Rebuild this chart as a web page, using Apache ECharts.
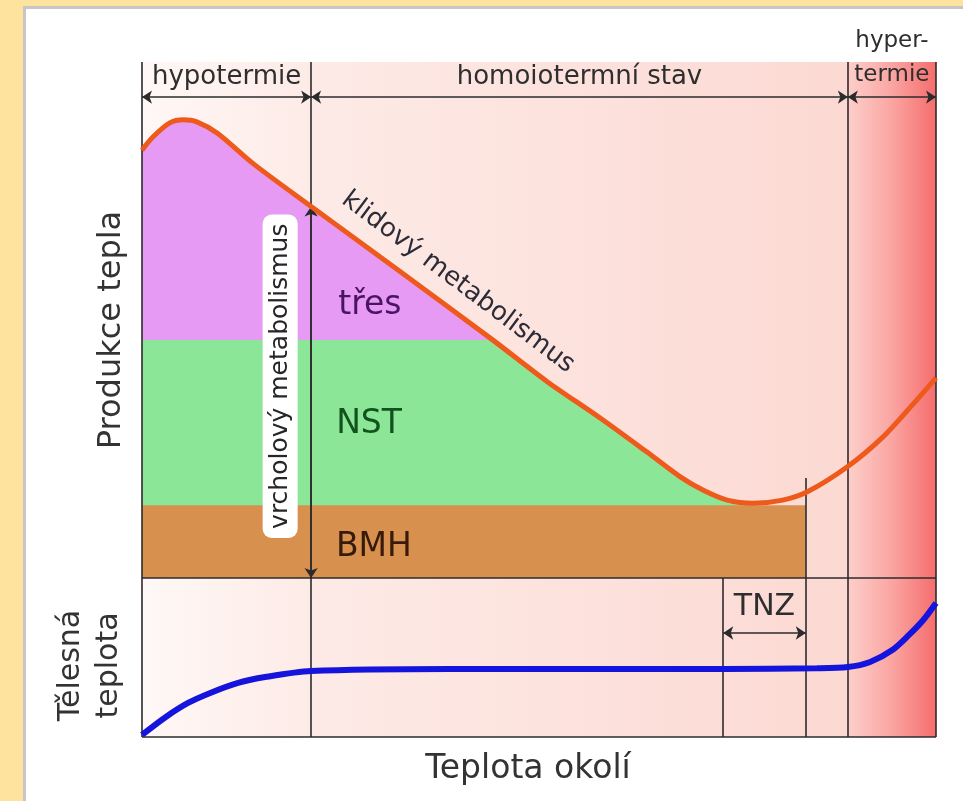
<!DOCTYPE html>
<html>
<head>
<meta charset="utf-8">
<script src="https://cdn.jsdelivr.net/npm/echarts@6/dist/echarts.min.js"></script>
<style>
  html, body { margin: 0; padding: 0; background: #fde39d; }
  #chart { width: 963px; height: 801px; }
</style>
</head>
<body>
<div id="chart"></div>
<script>
// x: teplota okoli (0-100), horni graf: produkce tepla (0-100), dolni graf: telesna teplota (0-100)
const zoneBounds = [0, 21.3, 88.9, 100] // hypotermie | homoiotermni stav | hypertermie
const zoneLabels = ['hypotermie', 'homoiotermní stav', 'termie']
const tnzBounds = [73.2, 83.6]
const bmhLevel = 14.1
const nstLevel = 46.1
const bmhEnd = 83.6
const bmhEndTop = 19.4
const peakPoint = [21.3, 72.0] // vrcholovy metabolismus
const shiverEnd = 44.2
const curveMinX = 77.0

const heatCurve = [
  [0, 82.9], [1.4, 85.5], [3.5, 88.2], [5.2, 88.8], [6.9, 88.4], [9.5, 86.2], [14.0, 80.3],
  [21.3, 72.0], [32.5, 59.4], [44.2, 46.1], [51.0, 38.1], [57.7, 31.0], [63.6, 24.4],
  [67.8, 19.6], [70.7, 17.0], [73.7, 15.1], [77.0, 14.5], [80.7, 15.1], [83.8, 16.7],
  [88.8, 21.5], [93.3, 27.3], [97.0, 33.5], [100, 38.8]
]
const bodyTemp = [
  [0, 1.3], [3.0, 12.6], [5.8, 21.4], [8.6, 27.7], [12.1, 34.0], [15.5, 37.7], [21.3, 41.5],
  [38.8, 42.8], [57.7, 42.8], [73.2, 42.8], [85.0, 43.2], [88.9, 44.0], [91.7, 47.2],
  [94.5, 54.7], [96.6, 64.2], [98.4, 73.6], [100, 84.3]
]

const FONT = "'DejaVu Sans', Verdana, sans-serif"
const LINE = '#2b2b2b'
const TEXT = '#2e2e2e'

const chart = echarts.init(document.getElementById('chart'))

const shiverArea = heatCurve.filter(p => p[0] <= shiverEnd)
const nstArea = [[0, nstLevel]].concat(heatCurve.filter(p => p[0] >= shiverEnd && p[0] <= curveMinX))
const bmhArea = [[0, bmhLevel], [bmhEnd, bmhLevel]]

const warmGrad = () => new echarts.graphic.LinearGradient(0, 0, 1, 0, [
  { offset: 0, color: '#fff8f6' },
  { offset: 0.25, color: '#fdeae6' },
  { offset: 1, color: '#fcd9d3' }
])
const hotGrad = () => new echarts.graphic.LinearGradient(0, 0, 1, 0, [
  { offset: 0, color: '#fdcfca' },
  { offset: 0.5, color: '#faa5a2' },
  { offset: 1, color: '#f56d6d' }
])

function bgAreas () {
  return [
    [{ coord: [zoneBounds[0], 0], itemStyle: { color: warmGrad() } }, { coord: [zoneBounds[2], 100] }],
    [{ coord: [zoneBounds[2], 0], itemStyle: { color: hotGrad() } }, { coord: [zoneBounds[3], 100] }]
  ]
}

function vline (x, y0, y1) {
  return [{ coord: [x, y0] }, { coord: [x, y1] }]
}
function hline (y, x0, x1) {
  return [{ coord: [x0, y] }, { coord: [x1, y] }]
}

const topFrame = zoneBounds.map(x => vline(x, 0, 100))
topFrame.push(hline(0, 0, 100))
topFrame.push(vline(bmhEnd, 0, bmhEndTop))

const bottomFrame = zoneBounds.concat(tnzBounds).map(x => vline(x, 0, 100))
bottomFrame.push(hline(0, 0, 100))

const headerArrows = []
for (let i = 0; i < zoneBounds.length - 1; i++) {
  headerArrows.push(hline(93.2, zoneBounds[i], zoneBounds[i + 1]))
}
headerArrows.push(vline(peakPoint[0], peakPoint[1], 0))

const markLineBase = {
  silent: true,
  animation: false,
  label: { show: false },
  lineStyle: { color: LINE, width: 1.6, type: 'solid', opacity: 1 }
}

function txt (x, y, text, style) {
  return {
    value: [x, y],
    label: Object.assign({ show: true, formatter: text, position: 'inside', fontFamily: FONT, color: TEXT, fontSize: 22 }, style)
  }
}

const topTexts = [
  txt((zoneBounds[0] + zoneBounds[1]) / 2, 97.1, zoneLabels[0], { fontSize: 26 }),
  txt((zoneBounds[1] + zoneBounds[2]) / 2, 97.1, zoneLabels[1], { fontSize: 26 }),
  txt((zoneBounds[2] + zoneBounds[3]) / 2, 97.4, zoneLabels[2], { fontSize: 23 }),
  txt((zoneBounds[2] + zoneBounds[3]) / 2, 104.0, 'hyper-', { fontSize: 23 }),
  txt(28.7, 52.9, 'třes', { fontSize: 33, color: '#4a1560' }),
  txt(28.6, 29.7, 'NST', { fontSize: 33, color: '#12521d' }),
  txt(29.2, 5.9, 'BMH', { fontSize: 33, color: '#381a0b' }),
  txt(17.4, 39.1, 'vrcholový metabolismus', {
    fontSize: 25, rotate: 90, color: '#262626', backgroundColor: '#ffffff',
    borderRadius: 9, padding: [5, 9]
  }),
  txt(39.8, 57.3, 'klidový metabolismus', { fontSize: 26, rotate: -37, color: '#2c2c38' })
]
const bottomTexts = [
  txt((tnzBounds[0] + tnzBounds[1]) / 2, 81.8, 'TNZ', { fontSize: 30 })
]

const hiddenAxis = {
  type: 'value', min: 0, max: 100,
  axisLine: { show: false }, axisTick: { show: false },
  axisLabel: { show: false }, splitLine: { show: false }
}
const axisName = { fontFamily: FONT, color: '#333333' }

chart.setOption({
  animation: false,
  backgroundColor: '#fde39d',
  graphic: [{
    type: 'rect', left: 23, top: 6, z: -10,
    shape: { width: 960, height: 820 },
    style: { fill: '#ffffff', stroke: '#c6c6c6', lineWidth: 3 }
  }],
  grid: [
    { left: 142, right: 27, top: 62, height: 516 },
    { left: 142, right: 27, top: 578, height: 159 }
  ],
  xAxis: [
    Object.assign({ gridIndex: 0 }, hiddenAxis),
    Object.assign({
      gridIndex: 1, name: 'Teplota okolí', nameLocation: 'middle', nameGap: 16,
      nameTextStyle: Object.assign({ fontSize: 33, padding: [0, 22, 0, 0] }, axisName)
    }, hiddenAxis)
  ],
  yAxis: [
    Object.assign({
      gridIndex: 0, name: 'Produkce tepla', nameLocation: 'middle', nameGap: 14,
      nameTextStyle: Object.assign({ fontSize: 32, padding: [0, 20, 0, 0] }, axisName)
    }, hiddenAxis),
    Object.assign({
      gridIndex: 1, name: 'Tělesná\nteplota', nameLocation: 'middle', nameGap: 14,
      nameTextStyle: Object.assign({ fontSize: 30, lineHeight: 38, padding: [0, 16, 0, 0] }, axisName)
    }, hiddenAxis)
  ],
  series: [
    // pozadi
    {
      type: 'line', xAxisIndex: 0, yAxisIndex: 0, z: 1, data: [], symbol: 'none',
      markArea: { silent: true, data: bgAreas() }
    },
    {
      type: 'line', xAxisIndex: 1, yAxisIndex: 1, z: 1, data: [], symbol: 'none',
      markArea: { silent: true, data: bgAreas() }
    },
    // vrstvy produkce tepla
    {
      name: 'třes', type: 'line', xAxisIndex: 0, yAxisIndex: 0, z: 2, data: shiverArea,
      smooth: 0.3, symbol: 'none', lineStyle: { width: 0 },
      areaStyle: { color: '#e79af4', opacity: 1, origin: 'start' }
    },
    {
      name: 'NST', type: 'line', xAxisIndex: 0, yAxisIndex: 0, z: 3, data: nstArea,
      symbol: 'none', lineStyle: { width: 0 },
      areaStyle: { color: '#8ce698', opacity: 1, origin: 'start' }
    },
    {
      name: 'BMH', type: 'line', xAxisIndex: 0, yAxisIndex: 0, z: 4, data: bmhArea,
      symbol: 'none', lineStyle: { width: 0 },
      areaStyle: { color: '#d8904f', opacity: 1, origin: 'start' }
    },
    // ramecek a svisle cary
    {
      type: 'line', xAxisIndex: 0, yAxisIndex: 0, z: 5, data: [], symbol: 'none',
      markLine: Object.assign({ symbol: ['none', 'none'], data: topFrame }, markLineBase)
    },
    {
      type: 'line', xAxisIndex: 1, yAxisIndex: 1, z: 5, data: [], symbol: 'none',
      markLine: Object.assign({ symbol: ['none', 'none'], data: bottomFrame }, markLineBase)
    },
    {
      type: 'line', xAxisIndex: 0, yAxisIndex: 0, z: 9, data: [], symbol: 'none',
      markLine: Object.assign({ symbol: ['arrow', 'arrow'], symbolSize: 10, data: headerArrows }, markLineBase)
    },
    {
      type: 'line', xAxisIndex: 1, yAxisIndex: 1, z: 9, data: [], symbol: 'none',
      markLine: Object.assign({ symbol: ['arrow', 'arrow'], symbolSize: 10, data: [hline(65.4, tnzBounds[0], tnzBounds[1])] }, markLineBase)
    },
    // krivky
    {
      name: 'klidový metabolismus', type: 'line', xAxisIndex: 0, yAxisIndex: 0, z: 6,
      data: heatCurve, smooth: 0.3, symbol: 'none',
      lineStyle: { color: '#ee5a1c', width: 5 }
    },
    {
      name: 'tělesná teplota', type: 'line', xAxisIndex: 1, yAxisIndex: 1, z: 6,
      data: bodyTemp, smooth: 0.3, symbol: 'none',
      lineStyle: { color: '#1414dc', width: 6 }
    },
    // popisky
    {
      type: 'scatter', xAxisIndex: 0, yAxisIndex: 0, z: 10, symbolSize: 0, clip: false,
      silent: true, itemStyle: { opacity: 1 }, data: topTexts
    },
    {
      type: 'scatter', xAxisIndex: 1, yAxisIndex: 1, z: 10, symbolSize: 0, clip: false,
      silent: true, itemStyle: { opacity: 1 }, data: bottomTexts
    }
  ]
})

window.addEventListener('resize', function () {
  chart.resize()
})
</script>
</body>
</html>
